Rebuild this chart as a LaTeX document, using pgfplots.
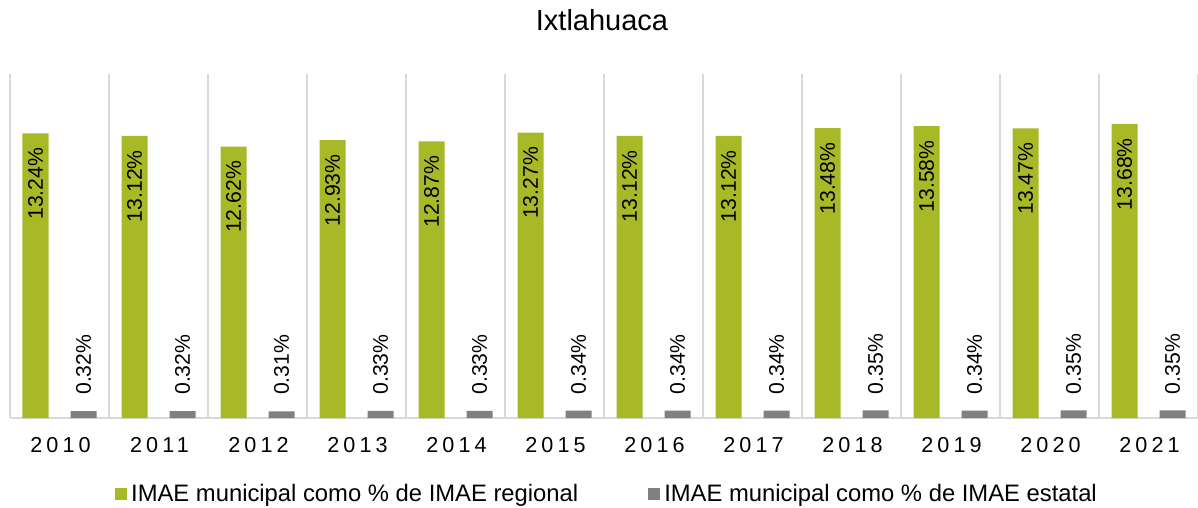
\documentclass[border=0pt]{standalone}
\usepackage{fontspec}
\setmainfont{Liberation Sans}
\newfontfamily\lsfont[LetterSpace=19]{Liberation Sans}
\usepackage{pgfplots}
\pgfplotsset{compat=1.18}
\definecolor{barg}{RGB}{168,185,40}
\definecolor{barr}{RGB}{128,128,128}
\definecolor{sepc}{RGB}{217,217,217}
\begin{document}
\begin{tikzpicture}
\path[use as bounding box] (-5pt,-45pt) rectangle (594pt,209pt);
\begin{axis}[
  at={(0,0)}, anchor=south west,
  scale only axis, width=594pt, height=172pt,
  xmin=-0.5, xmax=11.5, ymin=0, ymax=16,
  ybar=11pt, bar width=13pt,
  legend image code/.code={\fill[#1] (0pt,-3pt) rectangle (6pt,3pt);},
  axis y line=none, axis x line*=bottom,
  x axis line style={sepc, line width=0.8pt},
  xtick={0,...,11},
  xticklabels={2010,2011,2012,2013,2014,2015,2016,2017,2018,2019,2020,2021},
  major tick length=0pt, minor tick length=0pt,
  minor xtick={-0.5,0.5,...,11.5},
  xminorgrids, minor grid style={sepc, line width=0.8pt},
  xticklabel style={font=\lsfont\fontsize{10.8}{12}\selectfont, yshift=-6pt, xshift=0.5pt},
  /pgf/number format/assume math mode=true,
  title={Ixtlahuaca},
  title style={font=\fontsize{14.5}{17}\selectfont, at={(0.5,1)}, anchor=center, yshift=21pt, xshift=-1pt},
  legend style={at={(0.5,0)}, anchor=center, yshift=-38pt, xshift=2pt, draw=none, fill=none,
    legend columns=2, font=\fontsize{11.9}{14}\selectfont,
    /tikz/every even column/.append style={column sep=33pt}},
  nodes near coords={\pgfmathprintnumber[fixed,precision=2,fixed zerofill]{\pgfplotspointmeta}\%},
  nodes near coords style={font=\fontsize{10.6}{12}\selectfont, text=black, rotate=90},
]
\addplot[fill=barg, draw=none,
  every node near coord/.append style={anchor=east, inner xsep=7pt}]
  coordinates {(0,13.24) (1,13.12) (2,12.62) (3,12.93) (4,12.87) (5,13.27)
               (6,13.12) (7,13.12) (8,13.48) (9,13.58) (10,13.47) (11,13.68)};
\addplot[fill=barr, draw=none,
  every node near coord/.append style={anchor=west, inner xsep=8pt}]
  coordinates {(0,0.32) (1,0.32) (2,0.31) (3,0.33) (4,0.33) (5,0.34)
               (6,0.34) (7,0.34) (8,0.35) (9,0.34) (10,0.35) (11,0.35)};
\legend{IMAE municipal como \% de IMAE regional, IMAE municipal como \% de IMAE estatal}
\end{axis}
\end{tikzpicture}
\end{document}
